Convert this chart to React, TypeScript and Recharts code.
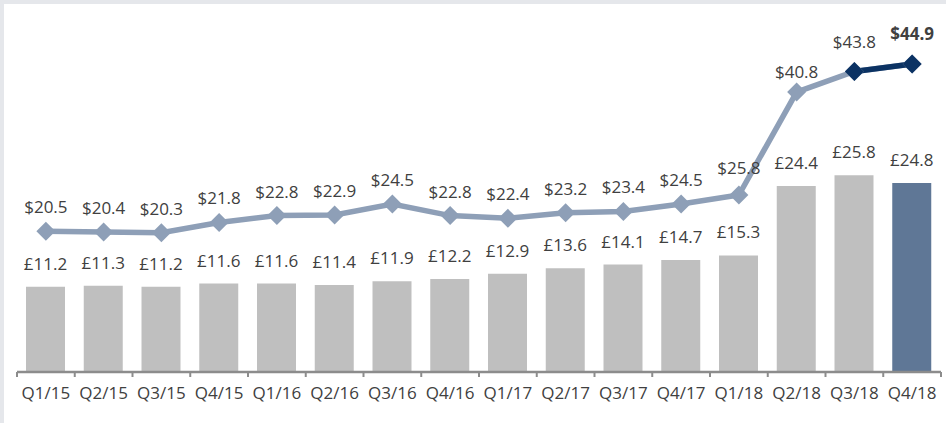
import React from 'react';
import { ComposedChart, Bar, Line, XAxis, YAxis, Cell, LabelList } from 'recharts';

const quarters = ['Q1/15','Q2/15','Q3/15','Q4/15','Q1/16','Q2/16','Q3/16','Q4/16','Q1/17','Q2/17','Q3/17','Q4/17','Q1/18','Q2/18','Q3/18','Q4/18'];
const gbpValues = [11.2,11.3,11.2,11.6,11.6,11.4,11.9,12.2,12.9,13.6,14.1,14.7,15.3,24.4,25.8,24.8];
const usdValues = [20.5,20.4,20.3,21.8,22.8,22.9,24.5,22.8,22.4,23.2,23.4,24.5,25.8,40.8,43.8,44.9];

const W = 946;
const H = 423;
const MARGIN = { top: 29, right: 5, bottom: 21, left: 17 };
const STEP = (W - MARGIN.left - MARGIN.right) / quarters.length;

const LIGHT_LINE = '#8e9fb7';
const DARK_LINE = '#0b3263';
const BAR_GRAY = '#bfbfbf';
const BAR_HIGHLIGHT = '#5f7796';
const TEXT = '#404040';
const FONT = 'Open Sans';
const FS = 17;

const data = quarters.map((q, i) => ({
  q,
  gbp: gbpValues[i],
  usd: usdValues[i],
  usdHi: i >= usdValues.length - 2 ? usdValues[i] : null,
}));

const Diamond = (color: string) => (props: any) => {
  const { cx, cy, value } = props;
  if (value == null || cx == null || cy == null) return <g />;
  const r = 9.5;
  return <path d={`M${cx},${cy - r} L${cx + r},${cy} L${cx},${cy + r} L${cx - r},${cy} Z`} fill={color} />;
};

const XTick = (props: any) => {
  const { x, y, payload, index } = props;
  const axisY = y - 8;
  const last = index === quarters.length - 1;
  return (
    <g>
      <line x1={x - STEP / 2} x2={x - STEP / 2} y1={axisY} y2={axisY + 5} stroke="#8c8c8c" strokeWidth={2} />
      {last && <line x1={x + STEP / 2} x2={x + STEP / 2} y1={axisY} y2={axisY + 5} stroke="#8c8c8c" strokeWidth={2} />}
      <text x={x} y={axisY + 27} textAnchor="middle" fill={TEXT} fontSize={FS} fontFamily={FONT}>{payload.value}</text>
    </g>
  );
};

const BarLabel = (props: any) => {
  const { x, y, width, value } = props;
  return (
    <text x={x + width / 2} y={y - 17} textAnchor="middle" fill={TEXT} fontSize={FS} fontFamily={FONT}>£{value.toFixed(1)}</text>
  );
};

const LineLabel = (props: any) => {
  const { x, y, value, index } = props;
  const n = usdValues.length;
  const last = index === n - 1;
  const off = index >= n - 2 ? 30 : index === n - 3 ? 20 : index === n - 4 ? 27 : 24;
  return (
    <text x={x} y={y - off + 6} textAnchor="middle" fill={TEXT} fontSize={FS} fontFamily={FONT} fontWeight={last ? 'bold' : 'normal'}>${value.toFixed(1)}</text>
  );
};

export default function App() {
  return (
    <div style={{ position: 'absolute', left: 0, top: 0, width: W, height: H, background: '#e5e7eb', overflow: 'hidden' }}>
      <div style={{ position: 'absolute', left: 4, top: 4, right: 0, bottom: 0, background: '#ffffff' }} />
      <div style={{ position: 'absolute', left: 0, top: 0 }}>
        <ComposedChart width={W} height={H} data={data} margin={MARGIN}>
          <XAxis dataKey="q" height={30} interval={0} axisLine={{ stroke: '#8c8c8c', strokeWidth: 2.5 }} tickLine={false} tick={<XTick />} />
          <YAxis yAxisId="bar" hide domain={[0, 45]} />
          <YAxis yAxisId="line" hide domain={[0, 50]} />
          <Bar yAxisId="bar" dataKey="gbp" barSize={39} isAnimationActive={false}>
            {data.map((d, i) => (
              <Cell key={d.q} fill={i === data.length - 1 ? BAR_HIGHLIGHT : BAR_GRAY} />
            ))}
            <LabelList dataKey="gbp" content={<BarLabel />} />
          </Bar>
          <Line yAxisId="line" dataKey="usd" stroke={LIGHT_LINE} strokeWidth={5.5} dot={Diamond(LIGHT_LINE)} activeDot={false} isAnimationActive={false}>
            <LabelList dataKey="usd" content={<LineLabel />} />
          </Line>
          <Line yAxisId="line" dataKey="usdHi" stroke={DARK_LINE} strokeWidth={5.5} dot={Diamond(DARK_LINE)} activeDot={false} isAnimationActive={false} connectNulls={false} />
        </ComposedChart>
      </div>
    </div>
  );
}
